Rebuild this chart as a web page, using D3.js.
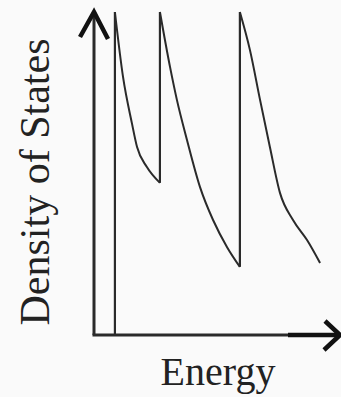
<!DOCTYPE html>
<html>
<head>
<meta charset="utf-8">
<script src="https://cdn.jsdelivr.net/npm/d3@7"></script>
<style>
  html, body { margin: 0; padding: 0; background: #fafafa; }
  #chart { width: 341px; height: 397px; }
  .label { font-family: "Liberation Serif", "DejaVu Serif", serif; fill: #222; }
</style>
</head>
<body>
<div id="chart"></div>
<script>
// Band onsets (energy) and the decaying density of states after each onset
const bandEdges = [8.5, 26.8, 59.3];
const band1Energy = [8.5, 11.8, 15.4, 17.5, 21.5, 26.8];
const band1Dos    = [100, 79.9, 65.6, 58.2, 52.0, 47.1];
const band2Energy = [26.8, 30.9, 33.7, 37.8, 43.1, 48.4, 54.1, 59.3];
const band2Dos    = [100, 83.0, 72.8, 60.4, 45.8, 35.6, 27.2, 21.1];
const band3Energy = [59.3, 63.4, 67.5, 71.5, 75.6, 80.9, 86.6, 91.9];
const band3Dos    = [100, 88.2, 72.8, 58.2, 44.0, 35.6, 29.4, 22.3];

const bands = [
    band1Energy.map((e, i) => ({ e: e, d: band1Dos[i] })),
    band2Energy.map((e, i) => ({ e: e, d: band2Dos[i] })),
    band3Energy.map((e, i) => ({ e: e, d: band3Dos[i] }))
];

const svg = d3.select("#chart")
    .append("svg")
    .attr("width", 341)
    .attr("height", 397);

// Scales
const xScale = d3.scaleLinear().domain([0, 100]).range([94, 340]);
const yScale = d3.scaleLinear().domain([0, 100]).range([335, 12]);

const ink = "#2a2a2a";

// Vertical jumps at each band edge
bandEdges.forEach(function(edge, i) {
    const from = i === 0 ? 0 : bands[i - 1][bands[i - 1].length - 1].d;
    svg.append("line")
        .attr("x1", xScale(edge))
        .attr("x2", xScale(edge))
        .attr("y1", yScale(from))
        .attr("y2", yScale(100))
        .attr("stroke", ink)
        .attr("stroke-width", 2.2);
});

// Decaying curves
const line = d3.line()
    .x(d => xScale(d.e))
    .y(d => yScale(d.d))
    .curve(d3.curveMonotoneX);

bands.forEach(function(b) {
    svg.append("path")
        .datum(b)
        .attr("d", line)
        .attr("fill", "none")
        .attr("stroke", ink)
        .attr("stroke-width", 2);
});

// Y axis with arrow
svg.append("line")
    .attr("x1", xScale(0)).attr("x2", xScale(0))
    .attr("y1", yScale(0)).attr("y2", yScale(100) + 2)
    .attr("stroke", ink)
    .attr("stroke-width", 3);

svg.append("path")
    .attr("d", `M${xScale(0) - 14},${yScale(100) + 25} L${xScale(0)},${yScale(100)} L${xScale(0) + 14},${yScale(100) + 27}`)
    .attr("fill", "none")
    .attr("stroke", "#111")
    .attr("stroke-width", 4.5);

// X axis with arrow
svg.append("line")
    .attr("x1", xScale(0) - 1.5).attr("x2", xScale(100) - 2)
    .attr("y1", yScale(0)).attr("y2", yScale(0))
    .attr("stroke", ink)
    .attr("stroke-width", 3);

svg.append("line")
    .attr("x1", 288).attr("x2", xScale(100) - 2)
    .attr("y1", yScale(0)).attr("y2", yScale(0))
    .attr("stroke", "#111")
    .attr("stroke-width", 4.5);

svg.append("path")
    .attr("d", `M${xScale(100) - 15},${yScale(0) - 14} L${xScale(100)},${yScale(0)} L${xScale(100) - 16},${yScale(0) + 15}`)
    .attr("fill", "none")
    .attr("stroke", "#111")
    .attr("stroke-width", 4.5);

// Axis labels
svg.append("text")
    .attr("class", "label")
    .attr("x", 218)
    .attr("y", 385)
    .attr("font-size", 40)
    .style("text-anchor", "middle")
    .text("Energy");

svg.append("text")
    .attr("class", "label")
    .attr("transform", "translate(49,182) rotate(-90)")
    .attr("font-size", 42)
    .style("text-anchor", "middle")
    .text("Density of States");
</script>
</body>
</html>
